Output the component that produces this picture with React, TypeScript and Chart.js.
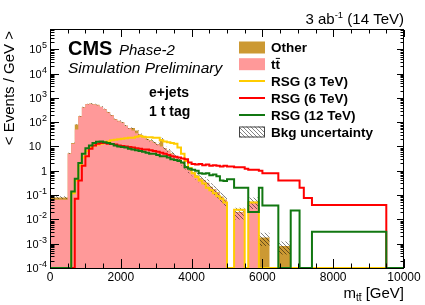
import React, { useEffect, useRef } from "react";
import { Chart, registerables } from "chart.js";

Chart.register(...registerables);

// ---- data (bin edges in GeV, per-bin values in events / GeV) ----
const binEdges = [0, 500, 600, 700, 800, 900, 1000, 1100, 1200, 1300, 1400, 1500, 1600, 1700, 1800, 1900,
  2000, 2100, 2200, 2300, 2400, 2500, 2600, 2700, 2800, 2900, 3000, 3100, 3200, 3300, 3400, 3500, 3600,
  3700, 3800, 3900, 4000, 4100, 4200, 4300, 4400, 4500, 4600, 4700, 4800, 4900, 5000, 5200, 5500, 5600,
  5900, 6000, 6200, 6450, 6800, 7050, 7170, 7400, 9500, 10000];

const ttbarValues = [0.065, 5, 13, 50, 170, 400, 540, 560, 530, 500, 420, 340, 250, 190, 130, 110, 95, 70,
  55, 45, 35, 30, 24, 19, 17, 14, 12, 10, 8, 6.5, 5, 3.8, 2.8, 2.0, 1.4, 1.0, 0.8, 0.6, 0.45, 0.38, 0.3,
  0.2, 0.16, 0.12, 0.08, 0.06, 0, 0.019, 0, 0.05, 0, 0, 0, 0, 0, 0, 0, 0, 0];

const otherValues = [0.015, 0.3, 1, 30, 8, 15, 20, 20, 20, 18, 15, 12, 10, 8, 6, 5, 4, 3, 3, 12, 10, 2,
  1.5, 1.2, 1.0, 0.8, 0.7, 10, 0.5, 0.4, 0.3, 0.25, 0.2, 0.15, 0.1, 0.08, 0.06, 0.05, 0.04, 0.03, 0.025,
  0.02, 0.015, 0.01, 0.008, 0.006, 0, 0.001, 0, 0.003, 0.0018, 0.0018, 0, 0.0008, 0, 0, 0, 0, 0];

const bkgRelUnc = [0.12, 0.05, 0.03, 0.03, 0.03, 0.03, 0.03, 0.03, 0.03, 0.03, 0.03, 0.03, 0.03, 0.04, 0.04,
  0.04, 0.05, 0.05, 0.06, 0.06, 0.07, 0.07, 0.08, 0.09, 0.1, 0.11, 0.12, 0.13, 0.14, 0.15, 0.17, 0.19, 0.21,
  0.23, 0.25, 0.27, 0.3, 0.32, 0.34, 0.36, 0.38, 0.4, 0.42, 0.44, 0.46, 0.48, 0.5, 0.5, 0.5, 0.5, 0.55, 0.55,
  0.55, 0.55, 0.55, 0.55, 0.55, 0.55, 0.55];

const rsg3Values = [0, 0, 0.12, 0.4, 1.6, 3.5, 6.5, 9, 11, 12, 13, 14.5, 16, 18, 19, 20, 21, 22, 23, 23,
  25, 27, 25, 24, 24, 23, 23, 18, 16, 15, 14, 13, 9, 5, 2.5, 1.3, 0.8, 0.55, 0.4, 0.3, 0.2, 0.16, 0.12,
  0.09, 0.07, 0.05, 0, 0.025, 0, 0.05, 0, 0, 0, 0, 0, 0, 0, 0, 0];

const rsg6Values = [0, 0, 0, 0.07, 0.4, 1.6, 4, 8, 11, 13, 14, 14, 13, 12.5, 12, 11, 10.5, 10, 9.5, 9,
  8.5, 8, 7.5, 7.5, 7, 6.5, 6, 5.5, 5, 4.5, 4, 3.8, 3.5, 3.2, 3, 2.2, 1.9, 1.8, 1.9, 1.7, 1.8, 1.6, 1.7,
  1.6, 1.5, 1.6, 1.5, 1.4, 1.2, 1.1, 1.0, 0.8, 0.8, 0.4, 0.4, 0.2, 0.075, 0.039, 0];

const rsg12Values = [0, 0, 0.14, 0.47, 2.1, 5, 8.5, 11, 14, 15.5, 16, 15, 14, 12.5, 11, 10, 9.5, 9, 8,
  7.5, 7, 6.5, 6, 5.5, 5, 5, 4.5, 4, 4, 3.5, 3, 2.8, 2.5, 2.2, 1.4, 1.2, 1.1, 1.0, 0.8, 0.75, 0.8, 0.65,
  0.7, 0.6, 0.4, 0.38, 0.45, 0.2, 0.2, 0.02, 0.2, 0.037, 0.037, 0, 0.023, 0, 0, 0.0031, 0];

const xTickValues = [0, 2000, 4000, 6000, 8000, 10000];
const xTickLabels = ["0", "2000", "4000", "6000", "8000", "10000"];
const yDecadeExponents = [-4, -3, -2, -1, 0, 1, 2, 3, 4, 5];
const legendLabels = ["Other", "tt", "RSG (3 TeV)", "RSG (6 TeV)", "RSG (12 TeV)", "Bkg uncertainty"];

const X_MIN = 0;
const X_MAX = 10000;
const Y_MIN = 1e-4;
const Y_MAX = 6.2e5;

const C_OTHER = "rgb(204,153,51)";
const C_TTBAR = "rgb(255,153,153)";
const C_RSG3 = "rgb(255,204,0)";
const C_RSG6 = "rgb(255,0,0)";
const C_RSG12 = "rgb(17,119,17)";
const FONT = "'Liberation Sans', Arial, Helvetica, sans-serif";

const floorVal = (v: number) => (v > Y_MIN ? v : Y_MIN);

function toSteps(values: number[]) {
  const pts = values.map((v, i) => ({ x: binEdges[i], y: floorVal(v) }));
  pts.push({ x: binEdges[binEdges.length - 1], y: floorVal(values[values.length - 1]) });
  return pts;
}

function txt(ctx: CanvasRenderingContext2D, s: string, x: number, y: number, font: string, align: CanvasTextAlign = "left") {
  ctx.font = font;
  ctx.textAlign = align;
  ctx.textBaseline = "alphabetic";
  ctx.fillStyle = "#000";
  ctx.fillText(s, x, y);
}

function makeOverlay(hatch: CanvasPattern) {
  return {
    id: "rootStyleOverlay",
    afterDraw(chart: any) {
      const ctx: CanvasRenderingContext2D = chart.ctx;
      const a = chart.chartArea;
      const xs = chart.scales.x;
      const ys = chart.scales.y;
      ctx.save();
      ctx.strokeStyle = "#000";
      ctx.lineWidth = 1;
      // frame
      ctx.strokeRect(a.left + 0.5, a.top - 0.5, a.right - a.left - 1, a.bottom - a.top + 1);
      // x ticks (bottom + top)
      ctx.beginPath();
      for (let v = X_MIN; v <= X_MAX; v += 500) {
        const px = Math.round(xs.getPixelForValue(v)) + 0.5;
        const major = v % 2000 === 0;
        ctx.moveTo(px, a.bottom);
        ctx.lineTo(px, a.bottom - (major ? 9 : 4.5));
        ctx.moveTo(px, a.top);
        ctx.lineTo(px, a.top + (major ? 7 : 3.5));
      }
      // y ticks (left + right)
      for (let k = -4; k <= 5; k++) {
        for (let m = 1; m <= 9; m++) {
          const v = m * Math.pow(10, k);
          if (v > Y_MAX) continue;
          const py = Math.round(ys.getPixelForValue(v)) + 0.5;
          const major = m === 1;
          ctx.moveTo(a.left, py);
          ctx.lineTo(a.left + (major ? 9 : 4.5), py);
          ctx.moveTo(a.right, py);
          ctx.lineTo(a.right - (major ? 7 : 3.5), py);
        }
      }
      ctx.stroke();

      // x tick labels
      xTickValues.forEach((v, i) => {
        txt(ctx, xTickLabels[i], xs.getPixelForValue(v), 280.5, `12px ${FONT}`, "center");
      });
      // y tick labels
      const labelRight = 47;
      yDecadeExponents.forEach((k) => {
        const py = ys.getPixelForValue(Math.pow(10, k));
        if (k === 0) {
          txt(ctx, "1", labelRight, py + 4, `11px ${FONT}`, "right");
        } else if (k === 1) {
          txt(ctx, "10", labelRight - 6, py + 4, `11px ${FONT}`, "right");
        } else {
          const sup = String(k);
          ctx.font = `9px ${FONT}`;
          const sw = ctx.measureText(sup).width;
          txt(ctx, sup, labelRight - sw, py - 1, `9px ${FONT}`, "left");
          txt(ctx, "10", labelRight - sw - 0.5, py + 4, `11px ${FONT}`, "right");
        }
      });

      // x title: m_{tt̄} [GeV]
      const f15 = `15px ${FONT}`;
      const f10 = `10px ${FONT}`;
      ctx.font = f15;
      const wm = ctx.measureText("m").width;
      const wg = ctx.measureText(" [GeV]").width;
      ctx.font = f10;
      const wtt = ctx.measureText("tt").width;
      const wt = ctx.measureText("t").width;
      const x0 = a.right - (wm + wtt + wg);
      txt(ctx, "m", x0, 297.5, f15);
      txt(ctx, "tt", x0 + wm, 301, f10);
      ctx.beginPath();
      ctx.moveTo(x0 + wm + wt + 0.3, 293.5);
      ctx.lineTo(x0 + wm + wtt, 293.5);
      ctx.lineWidth = 0.8;
      ctx.stroke();
      txt(ctx, " [GeV]", x0 + wm + wtt, 297.5, f15);

      // y title
      ctx.save();
      ctx.translate(14, 31);
      ctx.rotate(-Math.PI / 2);
      txt(ctx, "< Events / GeV >", 0, 0, `15px ${FONT}`, "right");
      ctx.restore();

      // luminosity label
      const fl = `15px ${FONT}`;
      const fs = `9.5px ${FONT}`;
      ctx.font = fl;
      const w1 = ctx.measureText("3 ab").width;
      const w3 = ctx.measureText(" (14 TeV)").width;
      ctx.font = fs;
      const w2 = ctx.measureText("-1").width;
      const lx = a.right - (w1 + w2 + w3);
      txt(ctx, "3 ab", lx, 24, fl);
      txt(ctx, "-1", lx + w1, 18, fs);
      txt(ctx, " (14 TeV)", lx + w1 + w2, 24, fl);

      // CMS labels
      txt(ctx, "CMS", 68, 55, `bold 20px ${FONT}`);
      txt(ctx, "Phase-2", 119, 54.5, `italic 15px ${FONT}`);
      txt(ctx, "Simulation Preliminary", 68, 72.5, `italic 15.5px ${FONT}`);
      txt(ctx, "e+jets", 149, 97, `bold 14px ${FONT}`);
      txt(ctx, "1 t tag", 149, 116, `bold 14px ${FONT}`);

      // legend
      const bx = 239, bw = 26, tx = 271;
      const rows = [47.5, 64.2, 81, 98, 115, 132];
      ctx.fillStyle = C_OTHER;
      ctx.fillRect(bx, rows[0] - 6, bw, 12);
      ctx.fillStyle = C_TTBAR;
      ctx.fillRect(bx, rows[1] - 6, bw, 12);
      [C_RSG3, C_RSG6, C_RSG12].forEach((c, i) => {
        ctx.beginPath();
        ctx.strokeStyle = c;
        ctx.lineWidth = 2;
        ctx.moveTo(bx, rows[2 + i]);
        ctx.lineTo(bx + bw, rows[2 + i]);
        ctx.stroke();
      });
      ctx.fillStyle = hatch;
      ctx.fillRect(bx, rows[5] - 5.5, bw, 11);
      ctx.strokeStyle = "#444";
      ctx.lineWidth = 1;
      ctx.strokeRect(bx + 0.5, rows[5] - 5, bw - 1, 10);
      const fb = `bold 13.5px ${FONT}`;
      legendLabels.forEach((lab, i) => {
        txt(ctx, lab, tx, rows[i] + 4.5, fb);
      });
      // overline on the second t of "tt"
      ctx.font = fb;
      const lt = ctx.measureText("t").width;
      const ltt = ctx.measureText("tt").width;
      ctx.beginPath();
      ctx.strokeStyle = "#000";
      ctx.lineWidth = 1;
      ctx.moveTo(tx + lt + 0.3, rows[1] - 5.8);
      ctx.lineTo(tx + ltt, rows[1] - 5.8);
      ctx.stroke();

      ctx.restore();
    },
  };
}

export default function App() {
  const ref = useRef<HTMLCanvasElement>(null);

  useEffect(() => {
    const canvas = ref.current;
    if (!canvas) return;
    const pc = document.createElement("canvas");
    pc.width = 4;
    pc.height = 4;
    const pctx = pc.getContext("2d")!;
    pctx.strokeStyle = "rgba(0,0,0,0.7)";
    pctx.lineWidth = 0.7;
    pctx.beginPath();
    pctx.moveTo(-1, -1);
    pctx.lineTo(5, 5);
    pctx.moveTo(-1, 3);
    pctx.lineTo(1, 5);
    pctx.moveTo(3, -1);
    pctx.lineTo(5, 1);
    pctx.stroke();
    const hatch = canvas.getContext("2d")!.createPattern(pc, "repeat")!;

    const totalValues = ttbarValues.map((v, i) => v + otherValues[i]);
    const lowValues = totalValues.map((v, i) => v * (1 - bkgRelUnc[i]));
    const highValues = totalValues.map((v, i) => v * (1 + bkgRelUnc[i]));

    const base = { stepped: "before" as const, pointRadius: 0, tension: 0 };

    const chart = new Chart(canvas, {
      type: "line",
      data: {
        datasets: [
          { ...base, label: "RSG (12 TeV)", data: toSteps(rsg12Values), borderColor: C_RSG12, borderWidth: 2, fill: false, order: 0 },
          { ...base, label: "RSG (6 TeV)", data: toSteps(rsg6Values), borderColor: C_RSG6, borderWidth: 2, fill: false, order: 1 },
          { ...base, label: "RSG (3 TeV)", data: toSteps(rsg3Values), borderColor: C_RSG3, borderWidth: 2, fill: false, order: 2 },
          { ...base, label: "unc low", data: toSteps(lowValues), borderColor: "transparent", borderWidth: 0, fill: false, order: 4 },
          { ...base, label: "Bkg uncertainty", data: toSteps(highValues), borderColor: "transparent", borderWidth: 0, backgroundColor: hatch, fill: "-1", order: 3 },
          { ...base, label: "tt", data: toSteps(ttbarValues), borderColor: "transparent", borderWidth: 0, backgroundColor: C_TTBAR, fill: "start", order: 5 },
          { ...base, label: "Other", data: toSteps(totalValues), borderColor: "transparent", borderWidth: 0, backgroundColor: C_OTHER, fill: "start", order: 6 },
        ] as any,
      },
      options: {
        responsive: false,
        animation: false,
        devicePixelRatio: 1,
        events: [],
        layout: { padding: { left: 50, right: 21, top: 30, bottom: 37 } },
        scales: {
          x: { type: "linear", min: X_MIN, max: X_MAX, display: false },
          y: { type: "logarithmic", min: Y_MIN, max: Y_MAX, display: false },
        },
        plugins: { legend: { display: false }, tooltip: { enabled: false } },
        elements: { point: { radius: 0 } },
      } as any,
      plugins: [makeOverlay(hatch)],
    });
    return () => chart.destroy();
  }, []);

  return (
    <div style={{ position: "fixed", left: 0, top: 0, width: 425, height: 305, background: "#fff" }}>
      <canvas ref={ref} width={425} height={305} style={{ display: "block", width: 425, height: 305 }} />
    </div>
  );
}
